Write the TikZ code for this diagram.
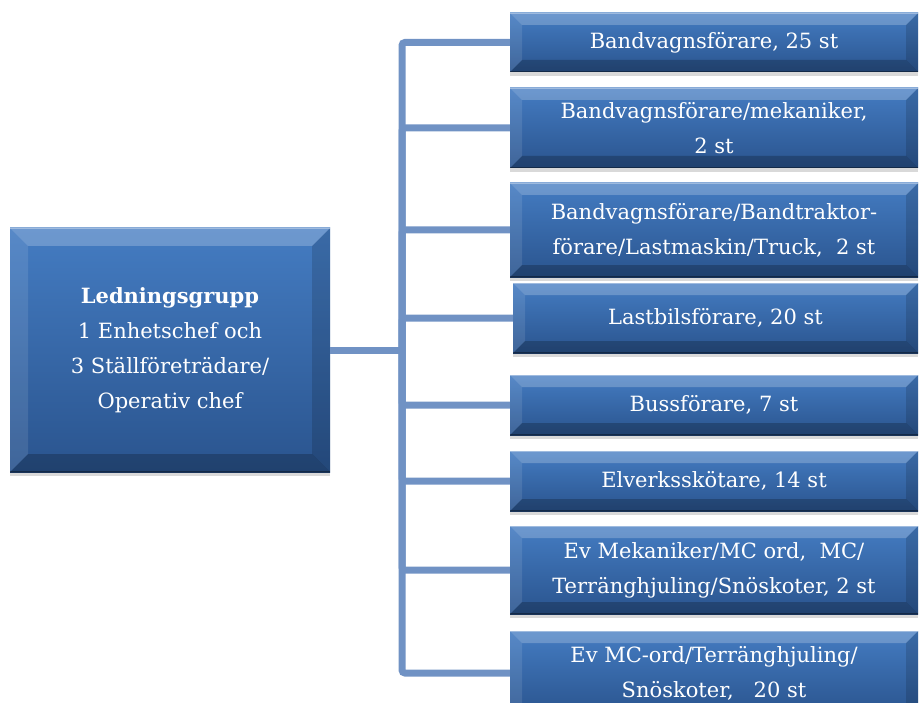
\documentclass[tikz,border=0pt]{standalone}
\usepackage{fontspec}
\setmainfont{DejaVu Serif}
\usetikzlibrary{calc}
\usetikzlibrary{shadows}
\definecolor{boxtop}{RGB}{68,124,194}
\definecolor{boxmid}{RGB}{52,101,167}
\definecolor{boxbot}{RGB}{42,84,142}
\definecolor{branchblue}{RGB}{112,146,196}
\tikzset{
    bevel/.style = {path picture={
        \path (path picture bounding box.south west) coordinate (bsw)
              (path picture bounding box.north east) coordinate (bne);
        \fill[white,opacity=.22] (bsw |- bne) -- (bne) -- ($(bne)+(-#1pt,-#1pt)$) -- ($(bsw |- bne)+(#1pt,-#1pt)$) -- cycle; % top
        \fill[white,opacity=.10] (bsw |- bne) -- (bsw) -- ($(bsw)+(#1pt,#1pt)$) -- ($(bsw |- bne)+(#1pt,-#1pt)$) -- cycle; % left
        \fill[black,opacity=.22] (bsw) -- (bsw -| bne) -- ($(bsw -| bne)+(-#1pt,#1pt)$) -- ($(bsw)+(#1pt,#1pt)$) -- cycle; % bottom
        \fill[black,opacity=.14] (bne) -- (bsw -| bne) -- ($(bsw -| bne)+(-#1pt,#1pt)$) -- ($(bne)+(-#1pt,-#1pt)$) -- cycle; % right
        \draw[white,opacity=.35,line width=2pt] (bsw |- bne) -- (bne); % top edge
        \draw[black,opacity=.35,line width=2pt] (bsw) -- (bsw -| bne); % bottom edge
    }},
    unitbox/.style = {rectangle, inner sep=0pt, align=center, text=white,
        top color=boxtop, middle color=boxmid, bottom color=boxbot,
        drop shadow={opacity=.3, shadow xshift=0pt, shadow yshift=-4pt},
        bevel=#1, font=\fontsize{21}{35}\selectfont},
    unitbox/.default = 12,
    branch/.style = {line width=7pt, draw=branchblue, rounded corners=3pt},
}

\begin{document}
\begin{tikzpicture}[x=1pt, y=-1pt]
    \useasboundingbox (0,0) rectangle (920,703);
    \clip (0,0) rectangle (920,703);

    \coordinate (hub) at (402,350);

    \node[unitbox=18, minimum width=320, minimum height=244] (lead) at (170,350)
        {\textbf{Ledningsgrupp}\\1 Enhetschef och\\3 Ställföreträdare/\\Operativ chef};

    \node[unitbox, minimum width=408, minimum height=59] (band) at (714,42.5)
        {Bandvagnsförare, 25 st};
    \node[unitbox, minimum width=408, minimum height=80] (bandmek) at (714,128)
        {Bandvagnsförare/mekaniker,\\2 st};
    \node[unitbox, minimum width=408, minimum height=94] (bandtrak) at (714,230)
        {Bandvagnsförare/Bandtraktor-\\förare/Lastmaskin/Truck,\ \ 2 st};
    \node[unitbox, minimum width=405, minimum height=70] (lastbil) at (715.5,318)
        {Lastbilsförare, 20 st};
    \node[unitbox, minimum width=408, minimum height=60] (buss) at (714,405)
        {Bussförare, 7 st};
    \node[unitbox, minimum width=408, minimum height=60] (elverk) at (714,481)
        {Elverksskötare, 14 st};
    \node[unitbox, minimum width=408, minimum height=88] (mek) at (714,570)
        {Ev Mekaniker/MC ord,\ \ MC/\\Terränghjuling/Snöskoter, 2 st};
    \node[unitbox, minimum width=408, minimum height=84] (mcord) at (714,673)
        {Ev MC-ord/Terränghjuling/\\Snöskoter,\ \ \ 20 st};

    \draw[branch] (lead.east) -- (hub);
    \foreach \unit in {band,bandmek,bandtrak,lastbil,buss,elverk,mek,mcord}
        \draw[branch] (hub) |- (\unit.west);

\end{tikzpicture}
\end{document}
